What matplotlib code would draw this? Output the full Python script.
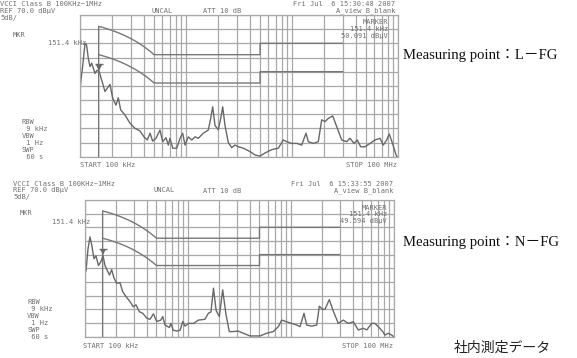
import numpy as np
import matplotlib
matplotlib.use("Agg")
import matplotlib.pyplot as plt

# ---------------- data ----------------
lfg_freq_khz = [100, 106, 111.5, 115.2, 119.8, 124.3, 128.9, 138.5, 144.5, 151.4,
                160.2, 172.1, 184.9, 191.9, 203.5, 218.6, 229.8, 242.1, 265.8, 296.3,
                330.3, 368.1, 401.6, 431.5, 457.5, 485.1, 521.2, 568.4, 602.7, 647.6,
                680.8, 706.3, 749.1, 817.2, 877.7, 930.3, 978.6, 1051, 1132, 1216,
                1306, 1456, 1623, 1710, 1786, 1878, 2017, 2126, 2220, 2333,
                2506, 2698, 2899, 3114, 3473, 4018, 4479, 4989, 5559, 6435,
                7428, 8279, 8913, 9935, 11070, 12343, 13552, 14248, 15886, 17708,
                19055, 20480, 22000, 24210, 26410, 29440, 32810, 35240, 38460, 41300,
                44460, 48840, 54450, 60690, 67640, 72630, 78200, 82740, 89130, 95760,
                100000]
lfg_level = [44, 52, 60, 59.5, 54.7, 51.8, 53, 49.4, 50.5, 50.1,
             47, 43, 44.7, 45.5, 40.6, 38.2, 40.8, 36.5, 34.7, 31.8,
             30, 29.1, 27, 25.9, 28.3, 25.5, 26.5, 29.4, 25.3, 26.7,
             24.1, 26.5, 23, 23, 26.5, 28.3, 24.1, 27, 25.9, 27,
             26.5, 28.3, 29.4, 33.5, 37.6, 31, 29.5, 33.5, 37.6, 31,
             25, 23.2, 24.1, 23.5, 23, 21.8, 20.6, 20.2, 21.3, 22.5,
             23, 25.9, 25.3, 24.7, 24.7, 24.1, 28.3, 25.3, 24.7, 25.3,
             33, 32.4, 33.5, 34.4, 30.6, 25.9, 25.3, 26.5, 24.7, 25.9,
             23.5, 23.5, 24.7, 25.9, 26.5, 24.1, 25.9, 28, 24.5, 20.6,
             19.5]

nfg_freq_khz = [103.4, 108.1, 113.1, 116.9, 123.6, 129.3, 136.7, 144.6, 151.2, 158.1,
                165.4, 174.8, 183.6, 193.0, 205.4, 221.0, 235.1, 253.0, 276.4, 297.6,
                316.1, 340.4, 367.8, 402.6, 432.9, 466.9, 502.3, 549.5, 574.9, 605.1,
                667.1, 688.4, 727.5, 785.8, 847.6, 900.2, 947.3, 1022, 1148, 1271,
                1477, 1594, 1690, 1787, 1895, 2035, 2196, 2365, 2546, 2785,
                3093, 3481, 4045, 5057, 5874, 6808, 7615, 8215, 9185, 10270,
                11490, 12370, 13520, 14360, 16060, 17970, 19040, 20540, 21630, 23810,
                26030, 29120, 32560, 36410, 40710, 45530, 50910, 54940, 61420, 66130,
                71180, 78560, 82700, 89020, 96050, 100000]
nfg_level = [44, 52, 56.5, 54, 48.5, 49.5, 46, 47.5, 49.6, 46,
             44.4, 42.5, 44.5, 41.5, 39.5, 39.7, 36.4, 34.6, 32.8, 30.9,
             31.6, 29.1, 28.5, 26.7, 26.3, 28.3, 25.5, 26, 27.3, 24.2,
             23.3, 24.8, 22.3, 22, 22.3, 25.5, 23.8, 24.8, 24.8, 26,
             26.3, 28.5, 29, 37.7, 29.6, 27.3, 37.1, 28, 21.8, 21.8,
             22, 21.2, 20.2, 20.2, 21.2, 21.8, 23.6, 26, 25.4, 24.8,
             24.2, 23.6, 28.5, 24.2, 23.8, 24.2, 31.1, 29.9, 30, 33.5,
             29.3, 24.8, 26, 24.8, 25.4, 22.4, 23, 22.4, 24.8, 24.8,
             23.6, 21.8, 20.5, 21.2, 20.5, 20]

# VCCI class B limits (breakpoints), kHz / dBuV
limit_freq_khz = [150, 500, 5000, 5000, 30000]
qp_limit_level = [66, 56, 56, 60, 60]
av_limit_level = [56, 46, 46, 50, 50]

marker_freq_khz = 151.4
marker_level = [50.091, 49.594]
marker_text = ["50.091", "49.594"]
sweep_dates = ["Fri Jul  6 15:30:48 2007", "Fri Jul  6 15:33:55 2007"]
point_names = ["L\uff0dFG", "N\uff0dFG"]

ref_level = 70.0
db_per_div = 5
start_khz = 100
stop_khz = 100000

# ---------------- figure ----------------
W, H = 577, 358
fig = plt.figure(figsize=(W / 100, H / 100), dpi=100)
fig.patch.set_facecolor("white")

GRID = "#a8a8a8"
TRACE = "#686868"
LIMIT = "#777777"
TXT = "#707070"
MONO = "DejaVu Sans Mono"
FS = 5.0
LS = 6.95  # line pitch of the analyser's text, px


def px(x, y):
    return x / W, 1 - y / H


def limit_path(freqs, levels, floor=None):
    fx, ly = [], []
    if floor is not None:
        fx.append(freqs[0]); ly.append(floor)
    for i in range(len(freqs) - 1):
        f0, f1 = freqs[i], freqs[i + 1]
        l0, l1 = levels[i], levels[i + 1]
        if f0 != f1 and l0 != l1:
            ff = np.linspace(f0, f1, 60)  # limit is linear in frequency
            fx.extend(ff); ly.extend(l0 + (l1 - l0) * (ff - f0) / (f1 - f0))
        else:
            fx.extend([f0, f1]); ly.extend([l0, l1])
    return fx, ly


def spectrum(rect, freq, level, mlevel):
    ax = fig.add_axes(rect)
    ax.set_xscale("log")
    bottom = ref_level - 10 * db_per_div
    ax.set_xlim(start_khz, stop_khz)
    ax.set_ylim(bottom, ref_level)
    xt = [m * 10 ** d for d in (2, 3, 4) for m in range(1, 10)] + [100000]
    ax.set_xticks(xt)
    ax.set_xticks([], minor=True)
    ax.set_yticks(np.arange(bottom, ref_level + 0.1, db_per_div))
    ax.tick_params(which="both", length=0, labelbottom=False, labelleft=False)
    ax.grid(True, which="major", color=GRID, lw=0.9)
    for s in ax.spines.values():
        s.set_color(GRID)
        s.set_linewidth(0.9)
    fq, lq = limit_path(limit_freq_khz, qp_limit_level, floor=bottom)
    fa, la = limit_path(limit_freq_khz, av_limit_level)
    ax.plot(fq, lq, color=LIMIT, lw=1.0)
    ax.plot(fa, la, color=LIMIT, lw=1.0)
    ax.plot(freq, level, color=TRACE, lw=1.0)
    ax.plot([marker_freq_khz], [mlevel + 1.3], marker="v", ms=4.5,
            color=TRACE, mew=0)
    ax.plot([marker_freq_khz], [mlevel + 2.5], marker="_", ms=6,
            color=TRACE, mew=1)
    return ax


def t(x, y, s, ha="left"):
    fig.text(*px(x, y), s, ha=ha, va="center", family=MONO, fontsize=FS,
             color=TXT)


# top: L-FG
spectrum([80 / W, 1 - 156.7 / H, 318 / W, 141.7 / H], lfg_freq_khz, lfg_level,
         marker_level[0])
# bottom: N-FG
spectrum([84.5 / W, 1 - 336.5 / H, 309 / W, 136.5 / H], nfg_freq_khz, nfg_level,
         marker_level[1])

# --- top panel texts ---
y0 = 3.7
t(0, y0, "VCCI Class B 100KHz~1MHz")
t(395, y0, sweep_dates[0], ha="right")
t(0, y0 + LS, "REF 70.0 dB\u03bcV")
t(152, y0 + LS, "UNCAL")
t(203, y0 + LS + 0.5, "ATT 10 dB")
t(395, y0 + LS, "A_view B_blank", ha="right")
t(0, y0 + 2 * LS, "5dB/")
t(13, 35, "MKR")
t(86, 43, "151.4 kHz", ha="right")
for i, s in enumerate(["MARKER", "151.4 kHz", marker_text[0] + " dB\u03bcV"]):
    t(388, 22.5 + LS * i, s, ha="right")
for i, s in enumerate(["RBW", " 9 kHz", "VBW", " 1 Hz", "SWP", " 60 s"]):
    t(22, 122.5 + LS * i, s)
t(80, 165, "START 100 kHz")
t(397, 165, "STOP 100 MHz", ha="right")

# --- bottom panel texts ---
y1 = 183.5
t(13, y1, "VCCI Class B 100KHz~1MHz")
t(393, y1 + 0.5, sweep_dates[1], ha="right")
t(13, y1 + LS, "REF 70.0 dB\u03bcV")
t(153, y1 + LS, "UNCAL")
t(203, y1 + LS + 1, "ATT 10 dB")
t(393, y1 + LS + 0.5, "A_view B_blank", ha="right")
t(13, y1 + 2 * LS, "5dB/")
t(20, 213, "MKR")
t(90, 222.5, "151.4 kHz", ha="right")
for i, s in enumerate(["MARKER", "151.4 kHz", marker_text[1] + " dB\u03bcV"]):
    t(387, 207.5 + LS * i, s, ha="right")
for i, s in enumerate(["RBW", " 9 kHz", "VBW", " 1 Hz", "SWP", " 60 s"]):
    t(27, 302 + LS * i, s)
t(83, 346, "START 100 kHz")
t(393, 346, "STOP 100 MHz", ha="right")

SERIF = ["Liberation Serif", "Noto Sans CJK JP"]
fig.text(*px(403, 55), "Measuring point\uff1a" + point_names[0], ha="left",
         va="center", family=SERIF, fontsize=10.6, color="#111111")
fig.text(*px(403, 242), "Measuring point\uff1a" + point_names[1], ha="left",
         va="center", family=SERIF, fontsize=10.6, color="#111111")
fig.text(*px(502, 348), "社内測定データ", ha="center", va="center",
         family=["Noto Sans CJK JP", "DejaVu Sans"], fontsize=10, color="#222222")

fig.savefig("out.png", dpi=100, facecolor="white")
